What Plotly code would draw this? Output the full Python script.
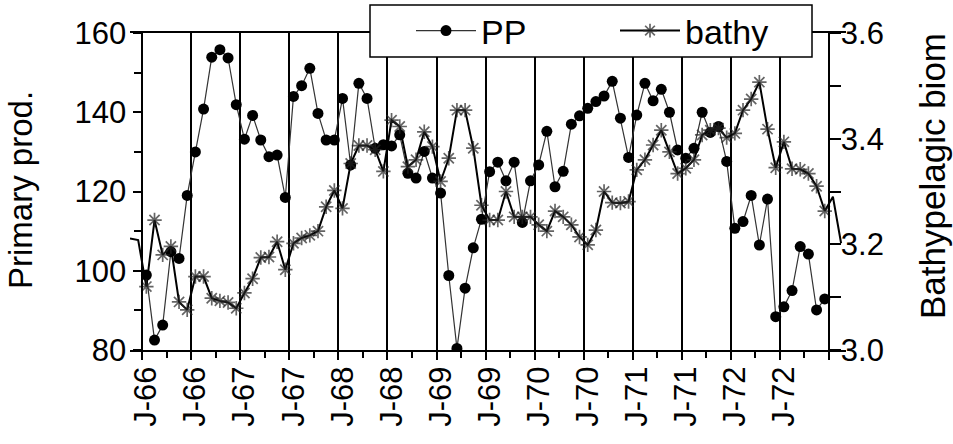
import plotly.graph_objects as go

# ---- data ----
pp_start = 0        # month index of first PP value (Jan 1966)
pp = [98.9, 82.5, 86.3, 104.8, 103.1, 119.0, 130.0, 140.8, 153.9, 155.8, 153.7, 141.9,
      133.2, 139.2, 133.0, 128.8, 129.2, 118.5, 144.0, 146.7, 151.1, 139.7, 133.0, 133.0,
      143.5, 126.7, 147.3, 143.5, 130.9, 131.8, 131.5, 134.3, 124.6, 123.4, 130.1, 123.4,
      119.6, 98.8, 80.4, 95.6, 105.8, 113.0, 125.0, 127.4, 122.7, 127.4, 112.2, 122.7,
      126.7, 135.2, 121.2, 125.1, 137.0, 139.1, 141.0, 142.7, 144.1, 147.8, 138.5, 128.6,
      139.3, 147.3, 142.9, 145.8, 140.0, 130.5, 128.4, 130.9, 140.0, 134.9, 136.4, 127.6,
      110.7, 112.4, 119.0, 106.5, 118.1, 88.4, 90.9, 95.0, 106.1, 104.2, 90.1, 92.9]

bathy_start = -2    # month index of first bathy value (Nov 1965)
bathy = [3.211, 3.208,
         3.120, 3.246, 3.180, 3.196, 3.091, 3.076, 3.139, 3.139, 3.098, 3.093, 3.090, 3.079,
         3.108, 3.135, 3.175, 3.176, 3.205, 3.152, 3.202, 3.212, 3.217, 3.225, 3.271, 3.302,
         3.268, 3.353, 3.387, 3.387, 3.379, 3.338, 3.435, 3.423, 3.347, 3.360, 3.413, 3.385,
         3.319, 3.363, 3.454, 3.454, 3.382, 3.274, 3.246, 3.246, 3.300, 3.252, 3.252, 3.252,
         3.237, 3.225, 3.263, 3.252, 3.237, 3.214, 3.199, 3.227, 3.300, 3.279, 3.278, 3.281,
         3.341, 3.360, 3.388, 3.416, 3.375, 3.334, 3.344, 3.360, 3.407, 3.416, 3.420, 3.402,
         3.410, 3.454, 3.475, 3.507, 3.418, 3.345, 3.394, 3.343, 3.342, 3.334, 3.310, 3.263,
         3.290, 3.202]

tick_labels = ["J-66", "J-66", "J-67", "J-67", "J-68", "J-68", "J-69", "J-69",
               "J-70", "J-70", "J-71", "J-71", "J-72", "J-72"]

pp_ticks = [80, 100, 120, 140, 160]
pp_minor = [90, 110, 130, 150]
bathy_ticks = [3.0, 3.2, 3.4, 3.6]
bathy_minor = [3.1, 3.3, 3.5]

# ---- derived positions ----
pp_x = [pp_start + i for i in range(len(pp))]
bathy_x = [bathy_start + i for i in range(len(bathy))]
first_m, last_m = pp_x[0], pp_x[-1]
bathy_msize = [12 if first_m <= m <= last_m else 0 for m in bathy_x]
label_pos = [6 * i for i in range(len(tick_labels))]
grid_pos = [6 * i - 0.5 for i in range(len(tick_labels) + 1)]
minor_pos = [6 * i + 2.5 for i in range(len(tick_labels))]

XR = [-2.0, 85.6]
left_pos = (grid_pos[0] - XR[0]) / (XR[1] - XR[0])
right_pos = (grid_pos[-1] - XR[0]) / (XR[1] - XR[0])

# plot area in pixels
L, R, T, B = 130, 846, 33, 350
W, H = R - L, B - T
def px(x):
    return (x - L) / W
def py(y):
    return (B - y) / H

FONT = "Liberation Sans, Arial, sans-serif"
FS_TICK = 31
FS_XT = 31
BLK = "black"

fig = go.Figure()
fig.add_trace(go.Scatter(
    x=pp_x, y=pp, name="PP", mode="lines+markers",
    line=dict(color="#333333", width=1.2),
    marker=dict(symbol="circle", size=11, color="black"),
    xaxis="x", yaxis="y"))
fig.add_trace(go.Scatter(
    x=bathy_x, y=bathy, name="bathy", mode="lines+markers",
    line=dict(color="black", width=2),
    marker=dict(symbol="asterisk-open", size=bathy_msize, color="#222222",
                line=dict(color="#222222", width=1.7)),
    xaxis="x", yaxis="y2"))
# invisible helper trace so the label axis is rendered
fig.add_trace(go.Scatter(
    x=label_pos, y=[None] * len(label_pos), mode="markers", showlegend=False,
    hoverinfo="skip", xaxis="x2", yaxis="y"))

fig.update_layout(
    width=953, height=444,
    margin=dict(l=L, r=953 - R, t=T, b=444 - B, autoexpand=False),
    paper_bgcolor="white", plot_bgcolor="white",
    font=dict(family=FONT, size=FS_TICK, color=BLK),
    showlegend=True,
    legend=dict(orientation="h", x=px(411), y=py(31),
                xanchor="left", yanchor="middle",
                bgcolor="rgba(0,0,0,0)", borderwidth=0,
                font=dict(family=FONT, size=34, color=BLK),
                itemwidth=60, entrywidth=129, entrywidthmode="pixels"),
    xaxis=dict(
        range=XR, domain=[0, 1],
        tickmode="array", tickvals=grid_pos, ticktext=[""] * len(grid_pos),
        ticks="outside", ticklen=8, tickwidth=1.5, tickcolor=BLK,
        showgrid=True, gridcolor=BLK, gridwidth=1.5,
        showline=True, linecolor=BLK, linewidth=1.5, mirror=True,
        zeroline=False,
        minor=dict(tickmode="array", tickvals=minor_pos, ticks="outside",
                   ticklen=6, tickwidth=1.5, tickcolor=BLK, showgrid=False),
    ),
    xaxis2=dict(
        range=XR, overlaying="x", side="bottom", anchor="y",
        tickmode="array", tickvals=label_pos, ticktext=tick_labels,
        tickangle=-90, ticks="outside", ticklen=3, tickcolor="rgba(0,0,0,0)",
        showgrid=False, showline=False, zeroline=False,
        tickfont=dict(family=FONT, size=FS_XT, color=BLK),
    ),
    yaxis=dict(
        range=[80, 160], anchor="free", position=left_pos,
        tickmode="array", tickvals=pp_ticks,
        ticks="outside", ticklen=9, tickwidth=1.5, tickcolor=BLK,
        showline=True, linecolor=BLK, linewidth=1.5,
        showgrid=False, zeroline=False,
        minor=dict(tickmode="array", tickvals=pp_minor, ticks="outside",
                   ticklen=8, tickwidth=1.5, tickcolor=BLK, showgrid=False),
        tickfont=dict(family=FONT, size=FS_TICK, color=BLK),
    ),
    yaxis2=dict(
        range=[3.0, 3.6], overlaying="y", side="right", anchor="free",
        position=right_pos,
        tickmode="array", tickvals=bathy_ticks,
        ticktext=[f"{v:.1f}" for v in bathy_ticks],
        ticks="outside", ticklen=11, tickwidth=1.5, tickcolor=BLK,
        ticklabelstandoff=-6,
        showline=True, linecolor=BLK, linewidth=1.5,
        showgrid=False, zeroline=False,
        minor=dict(tickmode="array", tickvals=bathy_minor, ticks="outside",
                   ticklen=11, tickwidth=1.5, tickcolor=BLK, showgrid=False),
        tickfont=dict(family=FONT, size=FS_TICK, color=BLK),
    ),
    shapes=[
        dict(type="rect", xref="paper", yref="paper",
             x0=px(370), x1=px(812), y0=py(57), y1=py(5),
             fillcolor="white", line=dict(color=BLK, width=1.5), layer="above"),
    ],
    annotations=[
        dict(text="Primary prod.", xref="paper", yref="paper",
             x=px(20), y=py(190), textangle=-90,
             showarrow=False, xanchor="center", yanchor="middle",
             font=dict(family=FONT, size=33, color=BLK)),
        dict(text="Bathypelagic biom", xref="paper", yref="paper",
             x=px(932), y=py(176), textangle=-90,
             showarrow=False, xanchor="center", yanchor="middle",
             font=dict(family=FONT, size=35, color=BLK)),
    ],
)

fig.write_html("out.html",
               config={"displayModeBar": False},
               post_script="document.body.style.margin='0px';")
